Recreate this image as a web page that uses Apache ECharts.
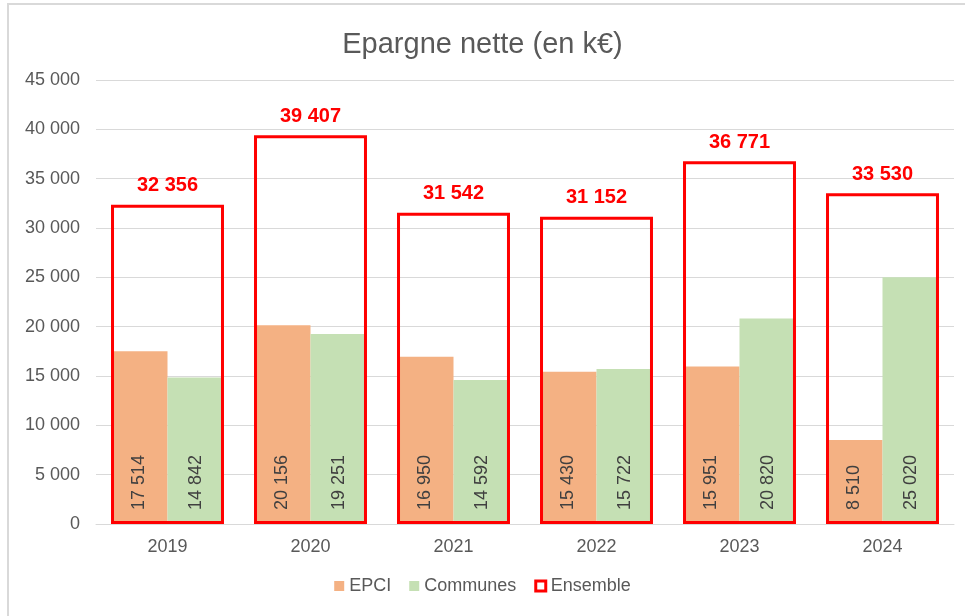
<!DOCTYPE html>
<html>
<head>
<meta charset="utf-8">
<script src="https://cdn.jsdelivr.net/npm/echarts@6/dist/echarts.min.js"></script>
<style>
  html, body { margin: 0; padding: 0; background: #fff; overflow: hidden; }
  #frame { position: absolute; left: 7px; top: 3px; width: 1100px; height: 700px;
           border-left: 2px solid #d9d9d9; border-top: 2px solid #d9d9d9; }
  #main { position: absolute; left: 0; top: 0; width: 965px; height: 616px; }
</style>
</head>
<body>
<div id="frame"></div>
<div id="main"></div>
<script>
var years = ['2019', '2020', '2021', '2022', '2023', '2024'];
var epci = [17514, 20156, 16950, 15430, 15951, 8510];
var communes = [14842, 19251, 14592, 15722, 20820, 25020];
var ensemble = [32356, 39407, 31542, 31152, 36771, 33530];

function fmt(v) {
  return String(v).replace(/\B(?=(\d{3})+(?!\d))/g, ' ');
}

var font = 'Arial, "Liberation Sans", sans-serif';
var chart = echarts.init(document.getElementById('main'));

var insideLabel = {
  show: true,
  position: 'insideBottom',
  rotate: 90,
  align: 'left',
  verticalAlign: 'middle',
  distance: 14,
  color: '#404040',
  fontSize: 18,
  fontFamily: font,
  formatter: function (p) { return fmt(p.value); }
};

var option = {
  animation: false,
  title: {
    text: 'Epargne nette (en k€)',
    left: 'center',
    top: 25,
    textStyle: { color: '#595959', fontSize: 29, fontWeight: 'normal', fontFamily: font }
  },
  legend: {
    bottom: 16,
    left: 'center',
    itemWidth: 10,
    itemHeight: 10,
    itemGap: 18,
    textStyle: { color: '#595959', fontSize: 18, fontFamily: font },
    data: [
      { name: 'EPCI', icon: 'rect' },
      { name: 'Communes', icon: 'rect' },
      { name: 'Ensemble', icon: 'rect', itemStyle: { color: '#fff', borderColor: '#ff0000', borderWidth: 3 } }
    ]
  },
  grid: { left: 96, right: 11, top: 80, bottom: 92 },
  xAxis: [
    {
      type: 'category',
      data: years,
      axisLine: { lineStyle: { color: '#d9d9d9', width: 1 } },
      axisTick: { show: false },
      axisLabel: { color: '#595959', fontSize: 18, fontFamily: font, margin: 14 }
    },
    { type: 'category', data: years, show: false }
  ],
  yAxis: {
    type: 'value',
    min: 0,
    max: 45000,
    interval: 5000,
    axisLine: { show: false },
    axisTick: { show: false },
    splitLine: { lineStyle: { color: '#d9d9d9', width: 1 } },
    axisLabel: {
      color: '#595959', fontSize: 18, fontFamily: font, margin: 16,
      formatter: function (v) { return fmt(v); }
    }
  },
  series: [
    {
      name: 'EPCI',
      type: 'bar',
      data: epci,
      barGap: '0%',
      barCategoryGap: '21%',
      itemStyle: { color: '#f4b183' },
      label: insideLabel
    },
    {
      name: 'Communes',
      type: 'bar',
      data: communes,
      barGap: '0%',
      barCategoryGap: '21%',
      itemStyle: { color: '#c5e0b4' },
      label: insideLabel
    },
    {
      name: 'Ensemble',
      type: 'bar',
      xAxisIndex: 1,
      data: ensemble,
      barCategoryGap: '21%',
      z: 3,
      itemStyle: { color: 'rgba(0,0,0,0)', borderColor: '#ff0000', borderWidth: 3 },
      label: {
        show: true,
        position: 'top',
        distance: 9,
        color: '#ff0000',
        fontSize: 20,
        fontWeight: 'bold',
        fontFamily: font,
        formatter: function (p) { return fmt(p.value); }
      }
    }
  ]
};

chart.setOption(option);
</script>
</body>
</html>
